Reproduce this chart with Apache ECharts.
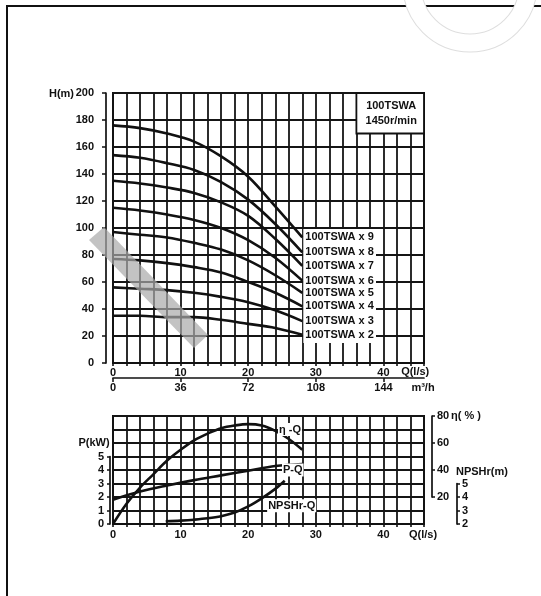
<!DOCTYPE html>
<html><head><meta charset="utf-8">
<script src="https://cdn.jsdelivr.net/npm/echarts@6/dist/echarts.min.js"></script>
<style>html,body{margin:0;padding:0;background:#fff;}#c{width:541px;height:596px;}</style>
</head><body><div id="c"></div>
<script>
// ---- data ----
const qHead = [0, 4, 8, 12, 16, 20, 24, 28];
const head9 = [176, 174, 170, 164, 153, 138, 116, 93];
const head8 = [154, 152, 148, 143, 134, 121, 103, 82];
const head7 = [135, 133, 130, 126, 119, 109, 92, 72];
const head6 = [115, 113, 110, 106, 100, 91, 78, 61];
const head5 = [97, 95, 93, 89, 84, 76, 65, 52];
const head4 = [77, 76, 74, 71, 67, 60, 52, 42];
const head3 = [56, 55, 54, 52, 49, 45, 39, 31];
const head2 = [35, 35, 34, 34, 32, 29, 26, 21];
const curveNames = ['100TSWA x 9','100TSWA x 8','100TSWA x 7','100TSWA x 6','100TSWA x 5','100TSWA x 4','100TSWA x 3','100TSWA x 2'];

const qEff = [0, 2, 4, 6, 8, 10, 12, 14, 16, 18, 20, 22, 24, 26, 28];
const eff  = [0, 15, 27, 37, 47, 55, 62, 67, 71, 73, 74, 73, 69, 63, 55];
const qPow = [0, 4, 8, 12, 16, 20, 24, 28];
const pow  = [1.8, 2.4, 2.85, 3.25, 3.6, 3.95, 4.3, 4.45];
const qNpsh = [7.8, 10, 12, 14, 16, 18, 20, 22, 24, 25.4];
const npsh  = [2.2, 2.25, 2.32, 2.42, 2.58, 2.85, 3.3, 3.9, 4.6, 5.2];

const qTickLabels = [0, 10, 20, 30, 40];
const m3hTickLabels = [0, 36, 72, 108, 144];
const headTickLabels = [0, 20, 40, 60, 80, 100, 120, 140, 160, 180, 200];
const powTickLabels = [0, 1, 2, 3, 4, 5];
const effTickLabels = [20, 40, 60, 80];
const npshTickLabels = [2, 3, 4, 5];
const boxTitle = ['100TSWA', '1450r/min'];

// ---- chart ----
const INK = '#111';
const FAM = '"Liberation Sans", Arial, sans-serif';
const txt = { color: INK, fontFamily: FAM, fontWeight: 'bold', fontSize: 11 };
const font = 'bold 11px "Liberation Sans", Arial, sans-serif';
const GL = 113, GW = 311;
const gridLine = { show: true, lineStyle: { color: '#151515', width: 1.8 } };
const axLine = { show: true, onZero: false, lineStyle: { color: INK, width: 1.7 } };
const CURVE_W = 2.6;

const heads = [head9, head8, head7, head6, head5, head4, head3, head2];
const series = heads.map((arr, i) => ({
  type: 'line', name: curveNames[i], xAxisIndex: 0, yAxisIndex: 0,
  data: qHead.map((q, j) => [q, arr[j]]),
  smooth: 0.35, showSymbol: false, symbol: 'none',
  lineStyle: { color: INK, width: CURVE_W },
  endLabel: { show: true, formatter: '{a}', distance: 3, ...txt },
  z: 3
}));
series.push({
  type: 'line', name: 'eta', xAxisIndex: 2, yAxisIndex: 3,
  data: qEff.map((q, j) => [q, eff[j]]), smooth: 0.35, showSymbol: false,
  lineStyle: { color: INK, width: CURVE_W }, z: 3
});
series.push({
  type: 'line', name: 'P', xAxisIndex: 2, yAxisIndex: 2,
  data: qPow.map((q, j) => [q, pow[j]]), smooth: 0.35, showSymbol: false,
  lineStyle: { color: INK, width: CURVE_W }, z: 3
});
series.push({
  type: 'line', name: 'NPSHr', xAxisIndex: 2, yAxisIndex: 4,
  data: qNpsh.map((q, j) => [q, npsh[j]]), smooth: 0.35, showSymbol: false,
  lineStyle: { color: INK, width: CURVE_W }, z: 3
});

const hiddenX = (g) => ({ type: 'value', gridIndex: g, min: 0, max: 46, show: false });

const option = {
  animation: false,
  backgroundColor: '#fff',
  grid: [
    { left: GL, top: 93, width: GW, height: 270, show: true, borderColor: INK, borderWidth: 2 },
    { left: GL, top: 377, width: GW, height: 1 },
    { left: GL, top: 416, width: GW, height: 108, show: true, borderColor: INK, borderWidth: 2 },
    { left: GL, top: 524 - 67.5, width: GW, height: 67.5 },
    { left: GL, top: 416, width: GW, height: 81 },
    { left: GL, top: 524 - 40.5, width: GW, height: 40.5 }
  ],
  xAxis: [
    { type: 'value', gridIndex: 0, min: 0, max: 46, interval: 2,
      axisLine: { show: true, onZero: false, lineStyle: { color: INK, width: 2 } },
      axisTick: { show: true, length: 3, lineStyle: { color: INK, width: 1.6 } },
      axisLabel: { ...txt, margin: 4, customValues: qTickLabels },
      splitLine: gridLine },
    { type: 'value', gridIndex: 1, min: 0, max: 46 * 3.6, interval: 36,
      axisLine: axLine,
      axisTick: { show: true, length: 4, customValues: m3hTickLabels, lineStyle: { color: INK, width: 1.5 } },
      axisLabel: { ...txt, margin: 4, customValues: m3hTickLabels },
      splitLine: { show: false } },
    { type: 'value', gridIndex: 2, min: 0, max: 46, interval: 2,
      axisLine: { show: true, onZero: false, lineStyle: { color: INK, width: 2 } },
      axisTick: { show: true, length: 3, lineStyle: { color: INK, width: 1.6 } },
      axisLabel: { ...txt, margin: 5, customValues: qTickLabels },
      splitLine: gridLine },
    hiddenX(3), hiddenX(4), hiddenX(5)
  ],
  yAxis: [
    { type: 'value', gridIndex: 0, min: 0, max: 200, interval: 10, offset: 7,
      axisLine: axLine,
      axisTick: { show: true, length: 4, customValues: headTickLabels, lineStyle: { color: INK, width: 1.5 } },
      axisLabel: { ...txt, margin: 12, customValues: headTickLabels },
      splitLine: gridLine },
    { type: 'value', gridIndex: 1, min: 0, max: 1, show: false },
    { type: 'value', gridIndex: 2, min: 0, max: 8, interval: 1,
      axisLine: { show: false }, axisTick: { show: false }, axisLabel: { show: false },
      splitLine: gridLine },
    { type: 'value', gridIndex: 2, min: 0, max: 80, show: false, splitLine: { show: false } },
    { type: 'value', gridIndex: 2, min: 2, max: 10, show: false, splitLine: { show: false } },
    { type: 'value', gridIndex: 3, min: 0, max: 5, interval: 1, offset: 3,
      axisLine: axLine,
      axisTick: { show: true, length: 3, customValues: powTickLabels, lineStyle: { color: INK, width: 1.5 } },
      axisLabel: { ...txt, margin: 6, customValues: powTickLabels },
      splitLine: { show: false } },
    { type: 'value', gridIndex: 4, min: 20, max: 80, interval: 20, position: 'right', offset: 8,
      axisLine: axLine,
      axisTick: { show: true, length: 3, customValues: effTickLabels, lineStyle: { color: INK, width: 1.5 } },
      axisLabel: { ...txt, margin: 5, customValues: effTickLabels },
      splitLine: { show: false } },
    { type: 'value', gridIndex: 5, min: 2, max: 5, interval: 1, position: 'right', offset: 33,
      axisLine: axLine,
      axisTick: { show: true, length: 3, customValues: npshTickLabels, lineStyle: { color: INK, width: 1.5 } },
      axisLabel: { ...txt, margin: 5, customValues: npshTickLabels },
      splitLine: { show: false } }
  ],
  series: series
};

const chart = echarts.init(document.getElementById('c'));
chart.setOption(option);

// ---- decorations positioned through the axes ----
const p0 = (v) => chart.convertToPixel({ xAxisIndex: 0, yAxisIndex: 0 }, v);
const p2 = (v) => chart.convertToPixel({ xAxisIndex: 2, yAxisIndex: 2 }, v);
const T = (text, x, y, align, extra) => ({
  type: 'text', z: 6,
  style: Object.assign({ text: text, x: x, y: y, font: font, fill: INK, textAlign: align || 'left', textVerticalAlign: 'middle' }, extra || {})
});

const boxA = p0([36, 200]), boxB = p0([46, 170]);
const labA = p0([28.15, 99.3]), labB = p0([38.9, 14.8]);
const h200 = p0([0, 200]), h0 = p0([44.7, 0]);
const etaL = p2([24.4, 7.0]), powL = p2([25.0, 4.0]), npL = p2([22.8, 1.35]);
const white = { backgroundColor: '#fff', padding: [1, 1] };

chart.setOption({
  graphic: { elements: [
    { type: 'rect', z: 0, shape: { x: 7, y: 6, width: 600, height: 620 }, style: { fill: 'none', stroke: INK, lineWidth: 2 } },
    { type: 'rect', z: 1, shape: { x: labA[0], y: labA[1], width: labB[0] - labA[0], height: labB[1] - labA[1] }, style: { fill: '#fff' } },
    { type: 'rect', z: 1, shape: { x: boxA[0], y: boxA[1], width: boxB[0] - boxA[0], height: boxB[1] - boxA[1] }, style: { fill: '#fff', stroke: INK, lineWidth: 1.8 } },
    T(boxTitle[0], (boxA[0] + boxB[0]) / 2 + 1, boxA[1] + 13, 'center'),
    T(boxTitle[1], (boxA[0] + boxB[0]) / 2 + 1, boxA[1] + 28, 'center'),
    T('H(m)', 74, h200[1] + 1, 'right'),
    T('Q(l/s)', h0[0], h0[1] + 9, 'center'),
    T('m³/h', 423, 388, 'center'),
    T('P(kW)', 94, 443, 'center'),
    T('Q(l/s)', 423, 535, 'center'),
    T('η( % )', 451, 416, 'left'),
    T('NPSHr(m)', 456, 472, 'left'),
    T('η -Q', etaL[0], etaL[1], 'left', white),
    T('P-Q', powL[0], powL[1], 'left', white),
    T('NPSHr-Q', npL[0], npL[1], 'left', white),
    // watermark
    { type: 'polygon', z: 10, shape: { points: [[89, 240], [104, 227], [208, 335], [194, 348]] }, style: { fill: 'rgba(170,170,170,0.7)' } },
    { type: 'circle', z: 10, shape: { cx: 470, cy: -15, r: 58 }, style: { fill: 'none', stroke: '#dedede', lineWidth: 19 } },
    { type: 'circle', z: 11, shape: { cx: 470, cy: -15, r: 58 }, style: { fill: 'none', stroke: '#fff', lineWidth: 17 } }
  ] }
});
</script>
</body></html>
